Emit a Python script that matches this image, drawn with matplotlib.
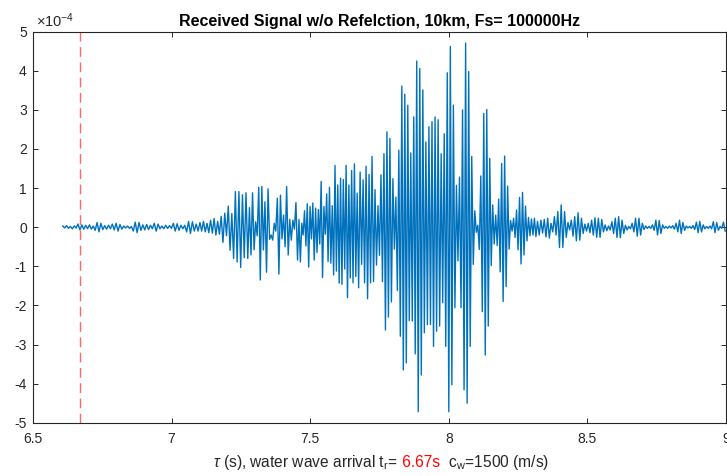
import numpy as np
import matplotlib
matplotlib.use('Agg')
import matplotlib.pyplot as plt
from matplotlib.ticker import FuncFormatter
from matplotlib.offsetbox import TextArea, HPacker, AnchoredOffsetbox

plt.rcParams['font.family'] = ['Liberation Sans', 'DejaVu Sans']
plt.rcParams['mathtext.fontset'] = 'custom'
plt.rcParams['mathtext.rm'] = 'Liberation Sans'
plt.rcParams['mathtext.it'] = 'Liberation Sans:italic'

# received signal, read off as successive peaks/troughs (units of 1e-4)
# each segment: (t_start, t_end) and the extremes inside it
seg_edges = [6.604, 7.099, 7.278, 7.457, 7.672, 7.887, 8.102, 8.317, 9.0]

seg_a = [0.03, -0.02, 0.04, -0.03, 0.02, -0.04, 0.03, -0.02,
         0.08, -0.07, 0.06, -0.05,
         0.05, -0.04, 0.06, -0.05, 0.03,
         -0.08, 0.12, -0.12, 0.10, -0.06,
         0.04, -0.05, 0.05, -0.04,
         0.08, -0.07, 0.10, -0.10, 0.07, -0.05,
         0.03, -0.02, 0.03, -0.03, 0.02,
         -0.10, 0.13, -0.14, 0.12, -0.08,
         0.06, -0.07, 0.07, -0.06, 0.05, -0.04,
         0.10, -0.10, 0.08,
         -0.04, 0.03, -0.04, 0.05, -0.03, 0.04, -0.03,
         0.10, -0.10, 0.09, -0.08,
         0.05, -0.04, 0.05,
         -0.12, 0.15, -0.16, 0.14, -0.10, 0.08,
         -0.10]
seg_b = [0.12, -0.10, 0.15, -0.12, 0.10, -0.14, 0.18, -0.15, 0.22, -0.20, 0.15, -0.18,
         0.28, -0.39, 0.36, -0.22, 0.54, -0.59, 0.35, -0.80, 0.91, -0.89, 0.91, -1.03,
         0.83, -0.78, 0.88, -0.80]
seg_c = [0.50, -0.71, 0.88, -0.58, 0.14, -0.22, 1.02, -1.35, 1.04, -0.58, 0.65, -1.15,
         0.98, -0.31, -0.20, -0.33, 0.10, -0.10, 0.74, -1.20, 0.82, -0.30, 0.31, -0.50,
         1.04, -0.71, 0.20, -0.33, 0.18, -0.05, 0.63, -0.84]
seg_d = [0.20, -0.89, 0.10, -0.20, 0.42, -0.48, 0.60, -1.02, 0.53, -0.30, 0.62, -0.84,
         0.49, -0.65, 0.45, -0.43, 1.17, -1.29, 0.53, -0.18, 0.85, -0.88, 1.02, -0.92,
         0.55, -1.22, 1.58, -1.12, 1.08, -1.43, 1.25, -1.46, 1.22, -1.07, 1.58, -1.80,
         1.08, -1.30, 1.45, -1.42, 1.62, -1.26, 0.87]
seg_e = [-1.55, 1.41, -0.95, 1.21, -1.42, 1.56, -1.83, 1.35, -1.42, 1.81, -1.39, 0.96,
         -0.97, 0.55, -0.72, 1.34, -1.39, 1.88, -2.63, 2.44, -2.30, 2.27, -1.91, 1.24,
         -0.56, 0.77, -1.62, 1.97, -2.79, 3.61, -3.65, 3.40, -3.47, 3.12, -2.39, 1.90,
         -2.40, 2.82, -3.24, 4.25]
seg_f = [-4.72, 4.06, -3.78, 3.51, -2.70, 2.18, -2.49, 2.57, -2.49, 2.70, -3.05, 2.82,
         -2.66, 2.75, -2.53, 1.88, -1.93, 2.39, -3.05, 3.95, -4.72, 4.62, -4.03, 3.12,
         -2.06, 1.07, -0.86, 1.28, -2.06, 3.00, -4.16, 4.71, -4.50, 3.98, -3.05, 1.81,
         -0.95, 0.42, -0.13]
seg_g = [0.05, -0.57, 1.31, -2.16, 2.91, -3.27, 3.01, -2.53, 1.76, -0.98, 0.57, -0.43,
         0.31, -0.47, 0.72, -1.14, 1.63, -1.90, 1.82, -1.52, 1.05, -0.56, 0.17, -0.10,
         0.23, -0.26, 0.44, -0.58, 0.76, -0.94, 0.89, -0.71, 0.54, -0.35, 0.25, -0.22,
         0.21, -0.20, 0.23, -0.24]
seg_h = [0.15, -0.20, 0.18, -0.15, 0.20, -0.25,
         0.23, -0.28, 0.10, -0.12, 0.27, -0.20, 0.40, -0.52, 0.57, -0.52, 0.40, -0.26,
         0.12, -0.07, 0.18, -0.23, 0.27, -0.35, 0.37, -0.33, 0.23, -0.16, 0.08, -0.10,
         0.10, -0.14, 0.18, -0.20, 0.24, -0.26, 0.23, -0.26, 0.20, -0.12, 0.06, -0.09,
         0.03, -0.07, 0.14, -0.16, 0.23, -0.26, 0.27, -0.27, 0.18, -0.16, 0.05, -0.07,
         0.02, -0.04, 0.10, -0.12, 0.23, -0.23, 0.23, -0.20, 0.10, -0.06, 0.03, -0.03,
         0.02, -0.03, 0.06, -0.08, 0.18, -0.20, 0.17, -0.16, 0.06, -0.03, 0.02, -0.03,
         0.03, -0.02, 0.04, -0.05, 0.10, -0.12, 0.18, -0.16, 0.12, -0.08, 0.03, -0.02,
         0.02, -0.03, 0.04, -0.06, 0.13, -0.14, 0.15, -0.12, 0.06, -0.04, 0.02, -0.03,
         0.03, -0.04, 0.14, -0.14, 0.12, -0.08, 0.02, -0.03, 0.13, -0.10]
segments = [seg_a, seg_b, seg_c, seg_d, seg_e, seg_f, seg_g, seg_h]

t_arrival = 6.67
xticks = [6.5, 7, 7.5, 8, 8.5, 9]
yticks = [-5, -4, -3, -2, -1, 0, 1, 2, 3, 4, 5]

# put the extremes of each segment at evenly spaced times inside it
t_list, y_list = [], []
for k, vals in enumerate(segments):
    t0, t1 = seg_edges[k], seg_edges[k + 1]
    n = len(vals)
    t_list.append(t0 + (np.arange(n) + 0.5) * (t1 - t0) / n)
    y_list.append(np.array(vals))
t = np.concatenate(t_list)
y = np.concatenate(y_list)

dark = '#262626'
fig = plt.figure(figsize=(7.27, 4.76), dpi=100)
ax = fig.add_axes([33 / 727, 1 - 422.7 / 476, 693 / 727, 391 / 476])

ax.plot(t, y, color='#0072BD', lw=1.0)
ax.axvline(t_arrival, color=(1, 0.4, 0.4), lw=1.0, linestyle=(0, (7, 4)))

ax.set_xlim(6.5, 9)
ax.set_ylim(-5, 5)
ax.set_xticks(xticks)
ax.set_yticks(yticks)
ax.xaxis.set_major_formatter(FuncFormatter(lambda v, p: f'{v:g}'))
ax.yaxis.set_major_formatter(FuncFormatter(lambda v, p: f'{v:g}'))
ax.tick_params(direction='in', length=3.6, width=0.7, colors=dark, labelsize=10,
               top=True, right=True)
ax.tick_params(axis='x', pad=6.5)
ax.tick_params(axis='y', pad=4.5)
for s in ax.spines.values():
    s.set_color(dark)
    s.set_linewidth(0.8)

ax.annotate('×10$^{-4}$', xy=(0, 1), xycoords='axes fraction', xytext=(2, 1.5),
            textcoords='offset points', ha='left', va='bottom', fontsize=10.5, color=dark)
ax.set_title('Received Signal w/o Refelction, 10km, Fs= 100000Hz',
             fontsize=11.5, fontweight='bold', color='black', pad=4)

# x label with the red arrival time
lab = dict(color=dark, size=11.2)
parts = [TextArea('$\\tau$ (s), water wave arrival t$_{\\rm r}$=', textprops=lab),
         TextArea(' 6.67s', textprops=dict(color='red', size=11.2)),
         TextArea('  c$_{\\rm w}$=1500 (m/s)', textprops=lab)]
box = HPacker(children=parts, align='baseline', pad=0, sep=0)
anchored = AnchoredOffsetbox(loc='lower center', child=box, pad=0, borderpad=0, frameon=False,
                             bbox_to_anchor=(381 / 727, 4 / 476),
                             bbox_transform=fig.transFigure)
fig.add_artist(anchored)

fig.savefig('out.png', dpi=100)
